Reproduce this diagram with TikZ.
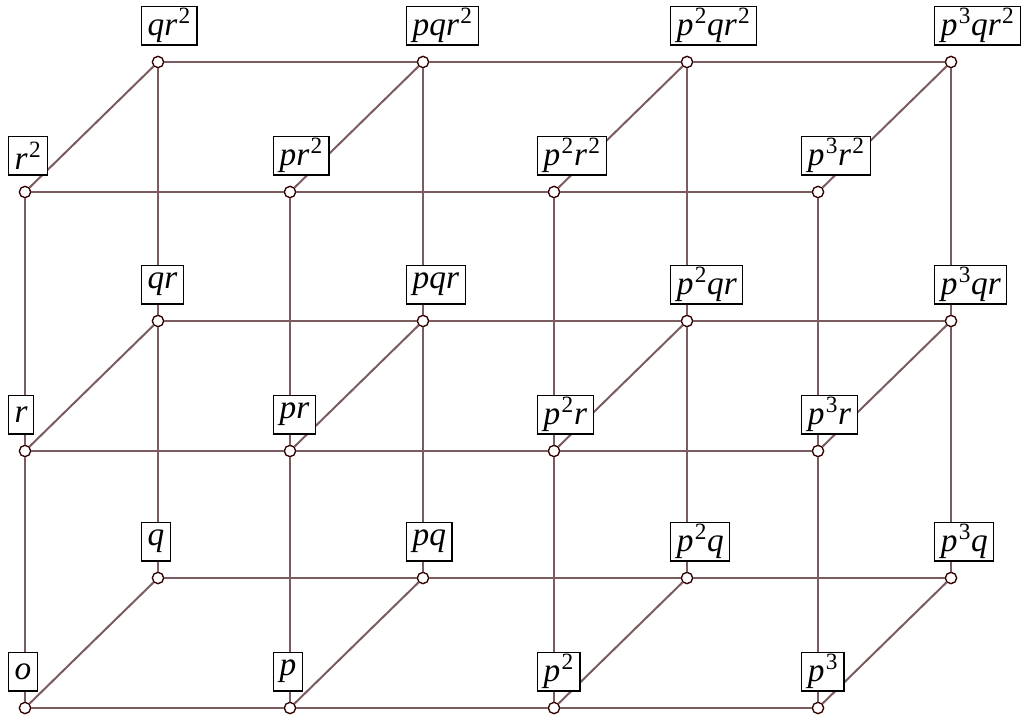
\documentclass[tikz,border=0pt]{standalone}
\usepackage{fontspec}
\setmainfont{Liberation Serif}
\usepackage{tikz}
\usetikzlibrary{positioning}
\definecolor{edgebrown}{RGB}{122,92,94}
\newcommand{\ex}[1]{\textsuperscript{\upshape\kern1pt#1}}

\begin{document}
\begin{tikzpicture}[
        x=0.75pt,y=-0.75pt,
        node distance=9pt and -16pt,
        vtx/.style={circle,draw=black!80!red,line width=1pt,fill=white,inner sep=0pt,minimum size=8.5pt},
        tag/.style={draw,fill=white,line width=0.9pt,inner xsep=4.5pt,inner ysep=0pt,minimum height=29pt,font=\fontsize{25}{27}\selectfont\itshape},
        grid/.style={line width=1.5pt,draw=edgebrown}
    ]
    \useasboundingbox (0,0) rectangle (1022,720);

    % front, r^0
    \node[vtx] (o)   at (25,708) {};
    \node[vtx] (p)   at (290,708) {};
    \node[vtx] (p2)  at (554,708) {};
    \node[vtx] (p3)  at (818,708) {};
    % back, r^0
    \node[vtx] (q)   at (158,578) {};
    \node[vtx] (pq)  at (423,578) {};
    \node[vtx] (p2q) at (687,578) {};
    \node[vtx] (p3q) at (951,578) {};
    % front, r^1
    \node[vtx] (r)   at (25,451) {};
    \node[vtx] (pr)  at (290,451) {};
    \node[vtx] (p2r) at (554,451) {};
    \node[vtx] (p3r) at (818,451) {};
    % back, r^1
    \node[vtx] (qr)   at (158,321) {};
    \node[vtx] (pqr)  at (423,321) {};
    \node[vtx] (p2qr) at (687,321) {};
    \node[vtx] (p3qr) at (951,321) {};
    % front, r^2
    \node[vtx] (r2)   at (25,192) {};
    \node[vtx] (pr2)  at (290,192) {};
    \node[vtx] (p2r2) at (554,192) {};
    \node[vtx] (p3r2) at (818,192) {};
    % back, r^2
    \node[vtx] (qr2)   at (158,62) {};
    \node[vtx] (pqr2)  at (423,62) {};
    \node[vtx] (p2qr2) at (687,62) {};
    \node[vtx] (p3qr2) at (951,62) {};

    % times p
    \draw[grid] (o) -- (p) -- (p2) -- (p3);
    \draw[grid] (q) -- (pq) -- (p2q) -- (p3q);
    \draw[grid] (r) -- (pr) -- (p2r) -- (p3r);
    \draw[grid] (qr) -- (pqr) -- (p2qr) -- (p3qr);
    \draw[grid] (r2) -- (pr2) -- (p2r2) -- (p3r2);
    \draw[grid] (qr2) -- (pqr2) -- (p2qr2) -- (p3qr2);
    % times q
    \draw[grid] (o) -- (q) (p) -- (pq) (p2) -- (p2q) (p3) -- (p3q);
    \draw[grid] (r) -- (qr) (pr) -- (pqr) (p2r) -- (p2qr) (p3r) -- (p3qr);
    \draw[grid] (r2) -- (qr2) (pr2) -- (pqr2) (p2r2) -- (p2qr2) (p3r2) -- (p3qr2);
    % times r
    \draw[grid] (o) -- (r) -- (r2);
    \draw[grid] (p) -- (pr) -- (pr2);
    \draw[grid] (p2) -- (p2r) -- (p2r2);
    \draw[grid] (p3) -- (p3r) -- (p3r2);
    \draw[grid] (q) -- (qr) -- (qr2);
    \draw[grid] (pq) -- (pqr) -- (pqr2);
    \draw[grid] (p2q) -- (p2qr) -- (p2qr2);
    \draw[grid] (p3q) -- (p3qr) -- (p3qr2);

    \node[tag,above right=of o] (lo) {o\/};
    \node[tag,above right=of p] (lp) {p\/};
    \node[tag,above right=of p2] (lp2) {p\ex{2}};
    \node[tag,above right=of p3] (lp3) {p\ex{3}};
    \node[tag,above right=of q] (lq) {q\/};
    \node[tag,above right=of pq] (lpq) {pq\/};
    \node[tag,above right=of p2q] (lp2q) {p\ex{2}q\/};
    \node[tag,above right=of p3q] (lp3q) {p\ex{3}q\/};
    \node[tag,above right=of r] (lr) {r\/};
    \node[tag,above right=of pr] (lpr) {pr\/};
    \node[tag,above right=of p2r] (lp2r) {p\ex{2}r\/};
    \node[tag,above right=of p3r] (lp3r) {p\ex{3}r\/};
    \node[tag,above right=of qr] (lqr) {qr\/};
    \node[tag,above right=of pqr] (lpqr) {pqr\/};
    \node[tag,above right=of p2qr] (lp2qr) {p\ex{2}qr\/};
    \node[tag,above right=of p3qr] (lp3qr) {p\ex{3}qr\/};
    \node[tag,above right=of r2] (lr2) {r\ex{2}};
    \node[tag,above right=of pr2] (lpr2) {pr\ex{2}};
    \node[tag,above right=of p2r2] (lp2r2) {p\ex{2}r\ex{2}};
    \node[tag,above right=of p3r2] (lp3r2) {p\ex{3}r\ex{2}};
    \node[tag,above right=of qr2] (lqr2) {qr\ex{2}};
    \node[tag,above right=of pqr2] (lpqr2) {pqr\ex{2}};
    \node[tag,above right=of p2qr2] (lp2qr2) {p\ex{2}qr\ex{2}};
    \node[tag,above right=of p3qr2] (lp3qr2) {p\ex{3}qr\ex{2}};
\end{tikzpicture}
\end{document}
